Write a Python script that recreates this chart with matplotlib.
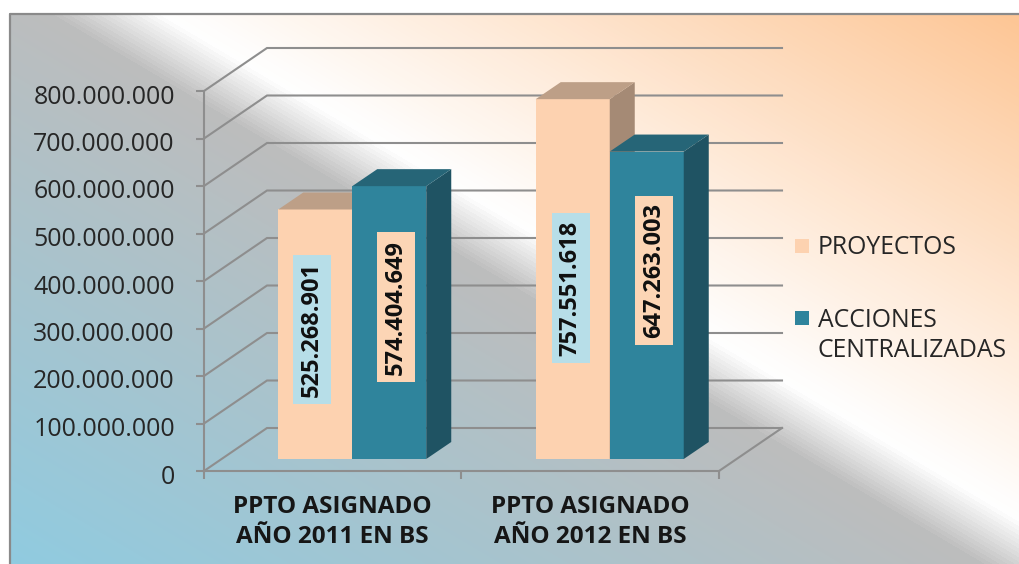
import numpy as np
import matplotlib
matplotlib.use("Agg")
import matplotlib.pyplot as plt
from matplotlib.colors import LinearSegmentedColormap
from matplotlib.patches import Polygon, Rectangle
from matplotlib.transforms import Affine2D

categories = ["PPTO ASIGNADO\nAÑO 2011 EN BS", "PPTO ASIGNADO\nAÑO 2012 EN BS"]
proyectos = [525268901, 757551618]
acciones = [574404649, 647263003]
yticks = [0, 100000000, 200000000, 300000000, 400000000, 500000000, 600000000, 700000000, 800000000]

W, H = 1020, 564
plt.rcParams["font.family"] = ["Open Sans", "DejaVu Sans"]


def dots(v):
    return f"{v:,.0f}".replace(",", ".")


fig = plt.figure(figsize=(W / 100, H / 100), dpi=100, facecolor="white")

# fondo con degradado diagonal
bg = fig.add_axes([0, 0, 1, 1], zorder=0)
xx, yy = np.meshgrid(np.arange(W), np.arange(H))
v = 15 + 0.59 * (xx - 170) - yy
t = (v + 643) / (643 + 498)
stops = [(0, "#90cbe0"), ((643 - 70) / 1141, "#bdbdbd"), ((643 - 4) / 1141, "#ffffff"),
         (1, "#fdc696")]
cmap = LinearSegmentedColormap.from_list("fondo", stops)
img = cmap(np.clip(t, 0, 1))
img[:13, :] = 1
img[:, :9] = 1
bg.imshow(img, extent=(0, W, H, 0), aspect="auto", interpolation="bilinear")
bg.set_xlim(0, W)
bg.set_ylim(H, 0)
bg.axis("off")
bg.plot([10, 10, W], [H, 13.5, 13.5], color="#8a8a8a", lw=1.6)

# ejes: x 204..719, y 471..91 en pixeles
ax = fig.add_axes([204 / W, (H - 471) / H, 515 / W, 380 / H], zorder=1)
ax.patch.set_alpha(0)
ax.set_xlim(0, 2)
ax.set_ylim(0, 800000000)
px = 2 / 515
py = 800000000 / 380

grid_color = "#8e8e8e"
depth_x, depth_y = 63 * px, 43 * py
for tick in yticks:
    ax.plot([0, depth_x, 2 + depth_x], [tick, tick + depth_y, tick + depth_y],
            color=grid_color, lw=1.5, clip_on=False, zorder=1, solid_joinstyle="miter")
ax.plot([2, 2 + depth_x], [0, depth_y], color=grid_color, lw=1.5, clip_on=False, zorder=1)

front_off_x, front_off_y = 19.5 * px, 12 * py
bar_w = 74 * px
bar_dx, bar_dy = 25 * px, 17 * py


def bar3d(left, value, front, side, top):
    x0 = left + front_off_x
    x1 = x0 + bar_w
    b = front_off_y
    h = b + value
    ax.bar(x0 + bar_w / 2, value, width=bar_w, bottom=b, color=front, zorder=3, clip_on=False)
    ax.add_patch(Polygon([(x1, b), (x1 + bar_dx, b + bar_dy), (x1 + bar_dx, h + bar_dy), (x1, h)],
                         closed=True, facecolor=side, edgecolor="none", zorder=3, clip_on=False))
    ax.add_patch(Polygon([(x0, h), (x0 + bar_dx, h + bar_dy), (x1 + bar_dx, h + bar_dy), (x1, h)],
                         closed=True, facecolor=top, edgecolor="none", zorder=3, clip_on=False))


centers = [0.5, 1.5]
for c, p, a in zip(centers, proyectos, acciones):
    bar3d(c - bar_w, p, "#fdd2b0", "#a58a75", "#bd9f87")
    bar3d(c, a, "#2f849c", "#1f5363", "#266577")

# etiquetas de datos
label_off = [(-3.5, 5), (6.5, 15.5), (-2, -9), (7, 35)]
label_val = [proyectos[0], acciones[0], proyectos[1], acciones[1]]
label_x = [centers[0] - bar_w / 2, centers[0] + bar_w / 2, centers[1] - bar_w / 2, centers[1] + bar_w / 2]
label_bg = ["#b7dee8", "#fcd5b5", "#b7dee8", "#fcd5b5"]
for val, x, off, col in zip(label_val, label_x, label_off, label_bg):
    ax.annotate(dots(val), xy=(x + front_off_x, front_off_y + val / 2), xytext=off,
                textcoords="offset pixels", rotation=90, ha="center", va="center",
                fontsize=17, fontweight="bold", color="#101010", zorder=5,
                bbox=dict(boxstyle="square,pad=0.3", facecolor=col, edgecolor="none"))

for s in ["top", "right"]:
    ax.spines[s].set_visible(False)
for s in ["left", "bottom"]:
    ax.spines[s].set_color(grid_color)
    ax.spines[s].set_linewidth(1.5)
ax.set_yticks(yticks)
ax.set_yticklabels([dots(i) for i in yticks], fontsize=18, color="#262626")
ax.tick_params(axis="y", length=6, width=1.5, color=grid_color, pad=15)
# las etiquetas del eje y van un poco mas abajo que la marca
for lab in ax.get_yticklabels():
    lab.set_transform(lab.get_transform() + Affine2D().translate(0, -3))
ax.set_xticks([0, 1, 2])
ax.set_xticklabels([])
ax.tick_params(axis="x", length=6, width=1.5, color=grid_color)
ax.set_xticks(centers, minor=True)
ax.set_xticklabels(categories, minor=True, fontsize=17.5, fontweight="bold", color="#161616",
                   linespacing=1.3)
ax.tick_params(axis="x", which="minor", length=0, pad=17.5)

# leyenda
bg.add_patch(Rectangle((795, 239), 14, 14, facecolor="#fdd2b0", edgecolor="none"))
bg.add_patch(Rectangle((795, 311), 14, 14, facecolor="#2f849c", edgecolor="none"))
bg.text(818, 247, "PROYECTOS", fontsize=17.8, color="#262626", va="center")
bg.text(818, 335.5, "ACCIONES\nCENTRALIZADAS", fontsize=17.8, color="#262626", va="center", linespacing=1.24)

fig.savefig("out.png", dpi=100)
